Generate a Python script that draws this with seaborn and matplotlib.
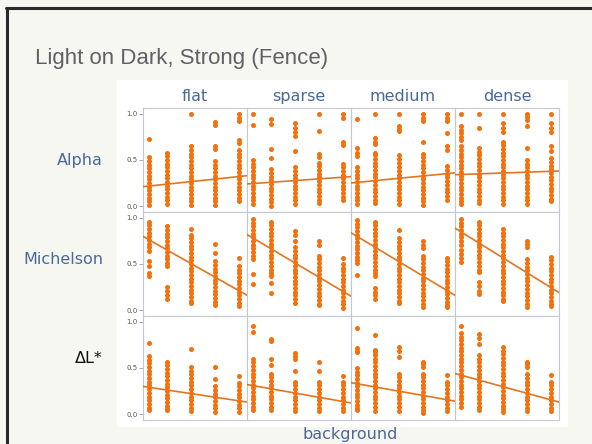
import numpy as np
import pandas as pd
import matplotlib
matplotlib.use("Agg")
import matplotlib.pyplot as plt
import seaborn as sns
from matplotlib.lines import Line2D
from matplotlib.patches import Rectangle

# ---------------- data ----------------
title = "Light on Dark, Strong (Fence)"
layouts = ["flat", "sparse", "medium", "dense"]
metrics = ["Alpha", "Michelson", "ΔL*"]
x_label = "background"
background = [0.1, 0.25, 0.45, 0.65, 0.85]
y_ticks = [0.0, 0.5, 1.0]
y_tick_labels = ["0.0", "0.5", "1.0"]

alpha_flat = [
    [0.73, 0.53, 0.49, 0.45, 0.41, 0.37, 0.33, 0.29, 0.25, 0.21, 0.17, 0.13, 0.09, 0.05, 0.01],
    [0.58, 0.54, 0.50, 0.46, 0.42, 0.38, 0.34, 0.30, 0.26, 0.22, 0.18, 0.14, 0.10, 0.06, 0.02],
    [1.0, 0.65, 0.61, 0.57, 0.53, 0.49, 0.45, 0.41, 0.37, 0.33, 0.29, 0.25, 0.21, 0.17, 0.13, 0.09, 0.05, 0.01],
    [0.91, 0.88, 0.65, 0.62, 0.49, 0.45, 0.41, 0.37, 0.33, 0.29, 0.25, 0.21, 0.17, 0.13, 0.09, 0.05, 0.01],
    [1.0, 0.96, 0.92, 0.72, 0.68, 0.61, 0.57, 0.53, 0.49, 0.45, 0.41, 0.37, 0.33, 0.29, 0.25, 0.21, 0.17, 0.13, 0.09, 0.05],
]
alpha_sparse = [
    [1.0, 0.88, 0.50, 0.46, 0.42, 0.38, 0.34, 0.30, 0.26, 0.22, 0.18, 0.14, 0.10, 0.06, 0.02],
    [0.95, 0.89, 0.62, 0.52, 0.40, 0.36, 0.32, 0.28, 0.24, 0.20, 0.16, 0.12, 0.08, 0.04, 0.00],
    [0.90, 0.85, 0.80, 0.76, 0.60, 0.42, 0.38, 0.34, 0.30, 0.26, 0.22, 0.18, 0.14, 0.10, 0.06, 0.02],
    [1.0, 0.81, 0.57, 0.53, 0.47, 0.43, 0.39, 0.35, 0.31, 0.27, 0.23, 0.19, 0.15, 0.11, 0.07, 0.03],
    [1.0, 0.96, 0.70, 0.66, 0.46, 0.42, 0.38, 0.34, 0.30, 0.26, 0.22, 0.18, 0.14, 0.10, 0.06],
]
alpha_medium = [
    [0.95, 0.63, 0.58, 0.54, 0.42, 0.38, 0.34, 0.30, 0.26, 0.22, 0.18, 0.14, 0.10, 0.06, 0.02],
    [1.0, 0.74, 0.70, 0.67, 0.58, 0.55, 0.51, 0.47, 0.43, 0.39, 0.35, 0.31, 0.27, 0.23, 0.19, 0.15, 0.11, 0.07, 0.03],
    [1.0, 0.87, 0.84, 0.81, 0.55, 0.51, 0.47, 0.42, 0.38, 0.34, 0.30, 0.26, 0.22, 0.18, 0.14, 0.10, 0.06, 0.02],
    [1.0, 0.96, 0.92, 0.70, 0.57, 0.53, 0.49, 0.45, 0.41, 0.37, 0.33, 0.29, 0.25, 0.21, 0.17, 0.13, 0.09, 0.05, 0.01],
    [1.0, 0.96, 0.92, 0.79, 0.65, 0.61, 0.43, 0.39, 0.35, 0.31, 0.27, 0.23, 0.19, 0.15, 0.11, 0.07],
]
alpha_dense = [
    [1.0, 0.87, 0.83, 0.79, 0.75, 0.72, 0.65, 0.61, 0.57, 0.53, 0.49, 0.45, 0.41, 0.37, 0.33, 0.29, 0.25, 0.21, 0.17, 0.13, 0.09, 0.05, 0.02],
    [1.0, 0.85, 0.63, 0.59, 0.55, 0.51, 0.47, 0.43, 0.39, 0.35, 0.31, 0.27, 0.23, 0.19, 0.15, 0.11, 0.07, 0.03],
    [1.0, 0.90, 0.85, 0.80, 0.70, 0.66, 0.62, 0.58, 0.54, 0.50, 0.46, 0.42, 0.38, 0.34, 0.30, 0.26, 0.22, 0.18, 0.14, 0.10, 0.06, 0.02],
    [1.0, 0.97, 0.93, 0.87, 0.63, 0.50, 0.46, 0.42, 0.38, 0.34, 0.30, 0.26, 0.22, 0.18, 0.14, 0.10, 0.06, 0.02],
    [1.0, 0.90, 0.85, 0.80, 0.65, 0.60, 0.52, 0.48, 0.44, 0.40, 0.36, 0.32, 0.28, 0.24, 0.20, 0.16, 0.12, 0.08, 0.05],
]

michelson_flat = [
    [0.96, 0.92, 0.88, 0.84, 0.80, 0.76, 0.72, 0.68, 0.64, 0.53, 0.48, 0.40, 0.37],
    [0.91, 0.87, 0.83, 0.79, 0.75, 0.71, 0.67, 0.63, 0.59, 0.55, 0.51, 0.48, 0.25, 0.21, 0.16, 0.12],
    [0.88, 0.82, 0.78, 0.74, 0.70, 0.66, 0.62, 0.58, 0.54, 0.50, 0.46, 0.42, 0.38, 0.34, 0.30, 0.26, 0.22, 0.18, 0.14, 0.10, 0.08],
    [0.72, 0.62, 0.53, 0.49, 0.45, 0.41, 0.37, 0.33, 0.29, 0.25, 0.21, 0.17, 0.13, 0.09, 0.05],
    [0.56, 0.48, 0.44, 0.40, 0.36, 0.32, 0.28, 0.24, 0.20, 0.16, 0.12, 0.08, 0.04],
]
michelson_sparse = [
    [0.99, 0.95, 0.91, 0.87, 0.83, 0.79, 0.75, 0.71, 0.67, 0.63, 0.59, 0.55, 0.39, 0.28],
    [0.96, 0.92, 0.88, 0.84, 0.80, 0.76, 0.72, 0.68, 0.64, 0.60, 0.56, 0.52, 0.48, 0.44, 0.40, 0.37, 0.29, 0.19],
    [0.86, 0.82, 0.75, 0.69, 0.64, 0.60, 0.56, 0.52, 0.48, 0.44, 0.40, 0.36, 0.32, 0.28, 0.24, 0.20, 0.16, 0.12, 0.08],
    [0.75, 0.71, 0.59, 0.55, 0.51, 0.47, 0.43, 0.39, 0.35, 0.31, 0.27, 0.23, 0.19, 0.15, 0.11, 0.07, 0.05],
    [0.56, 0.50, 0.46, 0.42, 0.38, 0.34, 0.30, 0.26, 0.22, 0.18, 0.14, 0.10, 0.06, 0.02],
]
michelson_medium = [
    [0.98, 0.94, 0.90, 0.86, 0.82, 0.78, 0.74, 0.70, 0.66, 0.62, 0.58, 0.54, 0.51, 0.38],
    [0.96, 0.92, 0.88, 0.84, 0.80, 0.76, 0.72, 0.68, 0.64, 0.60, 0.56, 0.52, 0.48, 0.44, 0.40, 0.37, 0.24, 0.20, 0.16, 0.12],
    [0.87, 0.78, 0.74, 0.70, 0.66, 0.62, 0.58, 0.54, 0.50, 0.46, 0.42, 0.38, 0.34, 0.30, 0.26, 0.22, 0.18, 0.14, 0.10, 0.08],
    [0.75, 0.71, 0.67, 0.59, 0.55, 0.51, 0.47, 0.43, 0.39, 0.35, 0.31, 0.27, 0.23, 0.19, 0.15, 0.11, 0.07, 0.03],
    [0.57, 0.53, 0.49, 0.45, 0.41, 0.37, 0.33, 0.29, 0.25, 0.21, 0.17, 0.13, 0.09, 0.05, 0.03],
]
michelson_dense = [
    [0.99, 0.95, 0.91, 0.87, 0.83, 0.79, 0.75, 0.71, 0.65, 0.61, 0.57, 0.52],
    [0.96, 0.92, 0.88, 0.84, 0.80, 0.76, 0.72, 0.68, 0.64, 0.60, 0.56, 0.52, 0.48, 0.44, 0.41, 0.30, 0.26, 0.21, 0.17],
    [0.88, 0.84, 0.80, 0.76, 0.72, 0.68, 0.64, 0.60, 0.56, 0.52, 0.48, 0.44, 0.40, 0.36, 0.32, 0.28, 0.24, 0.20, 0.16, 0.12, 0.10],
    [0.75, 0.72, 0.69, 0.55, 0.51, 0.47, 0.43, 0.39, 0.35, 0.31, 0.27, 0.23, 0.19, 0.15, 0.11, 0.07, 0.03],
    [0.58, 0.54, 0.50, 0.46, 0.42, 0.38, 0.34, 0.30, 0.26, 0.22, 0.18, 0.14, 0.10, 0.06, 0.04],
]

dl_flat = [
    [0.77, 0.63, 0.59, 0.55, 0.51, 0.47, 0.43, 0.39, 0.35, 0.31, 0.27, 0.23, 0.19, 0.15, 0.11, 0.07, 0.04],
    [0.57, 0.53, 0.49, 0.45, 0.41, 0.37, 0.33, 0.29, 0.25, 0.21, 0.17, 0.13, 0.09, 0.05, 0.04],
    [0.71, 0.51, 0.47, 0.43, 0.39, 0.35, 0.31, 0.27, 0.23, 0.19, 0.15, 0.11, 0.07, 0.03],
    [0.51, 0.38, 0.30, 0.26, 0.22, 0.18, 0.14, 0.10, 0.06, 0.02],
    [0.41, 0.34, 0.30, 0.26, 0.22, 0.18, 0.14, 0.10, 0.06, 0.02],
]
dl_sparse = [
    [0.96, 0.89, 0.60, 0.56, 0.52, 0.48, 0.44, 0.40, 0.36, 0.32, 0.28, 0.24, 0.20, 0.16, 0.12, 0.08, 0.04],
    [0.82, 0.79, 0.60, 0.53, 0.44, 0.40, 0.36, 0.32, 0.28, 0.24, 0.20, 0.16, 0.12, 0.08, 0.04],
    [0.66, 0.63, 0.60, 0.47, 0.35, 0.31, 0.27, 0.23, 0.19, 0.15, 0.11, 0.07, 0.03],
    [0.56, 0.47, 0.35, 0.31, 0.27, 0.23, 0.19, 0.15, 0.11, 0.07, 0.03],
    [0.41, 0.35, 0.31, 0.27, 0.23, 0.19, 0.15, 0.11, 0.07, 0.03],
]
dl_medium = [
    [0.94, 0.72, 0.69, 0.67, 0.50, 0.46, 0.42, 0.38, 0.34, 0.30, 0.26, 0.22, 0.18, 0.14, 0.10, 0.06, 0.04],
    [0.86, 0.70, 0.67, 0.64, 0.60, 0.56, 0.52, 0.48, 0.44, 0.40, 0.36, 0.32, 0.28, 0.24, 0.20, 0.16, 0.12, 0.08, 0.03],
    [0.73, 0.69, 0.62, 0.44, 0.40, 0.36, 0.32, 0.28, 0.24, 0.20, 0.16, 0.12, 0.08, 0.03],
    [0.57, 0.54, 0.51, 0.44, 0.40, 0.36, 0.32, 0.28, 0.24, 0.20, 0.16, 0.12, 0.08, 0.04, 0.01],
    [0.42, 0.35, 0.31, 0.27, 0.23, 0.19, 0.15, 0.11, 0.07, 0.03],
]
dl_dense = [
    [0.96, 0.88, 0.84, 0.80, 0.76, 0.72, 0.68, 0.64, 0.60, 0.56, 0.52, 0.48, 0.44, 0.40, 0.36, 0.32, 0.28, 0.24, 0.20, 0.16, 0.12, 0.08],
    [0.87, 0.83, 0.76, 0.64, 0.60, 0.56, 0.52, 0.48, 0.44, 0.40, 0.36, 0.32, 0.28, 0.24, 0.20, 0.16, 0.12, 0.08, 0.04],
    [0.73, 0.69, 0.65, 0.61, 0.57, 0.53, 0.49, 0.45, 0.41, 0.37, 0.33, 0.29, 0.25, 0.21, 0.17, 0.13, 0.09, 0.05, 0.02],
    [0.57, 0.54, 0.51, 0.43, 0.39, 0.35, 0.31, 0.27, 0.23, 0.19, 0.15, 0.11, 0.07, 0.03],
    [0.42, 0.35, 0.31, 0.27, 0.23, 0.19, 0.15, 0.11, 0.07, 0.03],
]

# fitted regression lines (intercept, slope vs background), one per layout
alpha_intercept = [0.203, 0.235, 0.244, 0.338]
alpha_slope = [0.138, 0.092, 0.127, 0.046]
michelson_intercept = [0.837, 0.859, 0.879, 0.930]
michelson_slope = [-0.738, -0.773, -0.785, -0.808]
dl_intercept = [0.310, 0.332, 0.352, 0.458]
dl_slope = [-0.196, -0.231, -0.231, -0.358]

# ---------------- assemble ----------------
panels = {
    "Alpha": [alpha_flat, alpha_sparse, alpha_medium, alpha_dense],
    "Michelson": [michelson_flat, michelson_sparse, michelson_medium, michelson_dense],
    "ΔL*": [dl_flat, dl_sparse, dl_medium, dl_dense],
}
fits = {
    "Alpha": (alpha_intercept, alpha_slope),
    "Michelson": (michelson_intercept, michelson_slope),
    "ΔL*": (dl_intercept, dl_slope),
}
rows = []
for m in metrics:
    for li, lay in enumerate(layouts):
        for bi, col in enumerate(panels[m][li]):
            for v in col:
                rows.append((m, lay, background[bi], v))
df = pd.DataFrame(rows, columns=["metric", "layout", "background", "value"])

# ---------------- style ----------------
sns.set_theme(style="white")
plt.rcParams["font.family"] = ["DejaVu Sans"]

W, H = 592, 444
BG = "#f7f7f2"
DOT = "#f4700e"
LINE = "#e5741f"
BLUE = "#4a6899"
SPINE = "#c3c7cf"

fig = plt.figure(figsize=(W / 100, H / 100), dpi=100, facecolor=BG)

# white plot area (behind the axes)
fig.patches.append(Rectangle((117 / W, 1 - 427 / H), (568 - 117) / W, (427 - 80) / H,
                             transform=fig.transFigure, facecolor="white",
                             edgecolor="none", zorder=-5))
# slide frame
fig.add_artist(Line2D([6 / W, 1.0], [1 - 8 / H] * 2, transform=fig.transFigure,
                      color="#2a2a2a", lw=2.2))
fig.add_artist(Line2D([7 / W] * 2, [0.0, 1 - 8 / H], transform=fig.transFigure,
                      color="#2a2a2a", lw=2.2))

fig.text(35 / W, 1 - 64 / H, title, fontsize=16, color="#606066", va="baseline",
         ha="left", family=["Liberation Sans"])

left0, top0, pw, ph = 143, 108, 104, 104
xlim = (0.05, 0.05 + 104 / 120)
ylim = (-0.065, 1.065)

for i, m in enumerate(metrics):
    for j, lay in enumerate(layouts):
        ax = fig.add_axes([(left0 + pw * j) / W, 1 - (top0 + ph * (i + 1)) / H,
                           pw / W, ph / H])
        ax.set_facecolor("white")
        sub = df[(df.metric == m) & (df.layout == lay)]
        sns.scatterplot(data=sub, x="background", y="value", ax=ax, color=DOT,
                        s=13, linewidth=0, legend=False, zorder=3)
        b0, b1 = fits[m][0][j], fits[m][1][j]
        xs = np.array(xlim)
        sns.lineplot(x=xs, y=b0 + b1 * xs, ax=ax, color=LINE, lw=1.2, zorder=4)
        ax.set_xlim(*xlim)
        ax.set_ylim(*ylim)
        ax.set_xlabel("")
        ax.set_ylabel("")
        ax.set_xticks([])
        for sp in ax.spines.values():
            sp.set_color(SPINE)
            sp.set_linewidth(0.8)
        if j == 0:
            ax.set_yticks(y_ticks)
            ax.set_yticklabels(y_tick_labels)
            ax.tick_params(axis="y", length=3, width=0.6, color="#9a9a9a",
                           labelsize=5, labelcolor="#555555", pad=1, left=True)
        else:
            ax.set_yticks([])
        if i == 0:
            ax.text(0.5, 1.035, lay, transform=ax.transAxes, ha="center",
                    va="bottom", fontsize=11.5, color=BLUE)

row_label_y = [161, 260, 358]
for i, m in enumerate(metrics):
    fig.text(103 / W, 1 - row_label_y[i] / H, m, ha="right", va="center",
             fontsize=11.5, color=BLUE if m != "ΔL*" else "#111111")

fig.text(350 / W, 1 - 434 / H, x_label, ha="center", va="center", fontsize=11.5,
         color=BLUE)

fig.savefig("out.png", dpi=100, facecolor=BG)
